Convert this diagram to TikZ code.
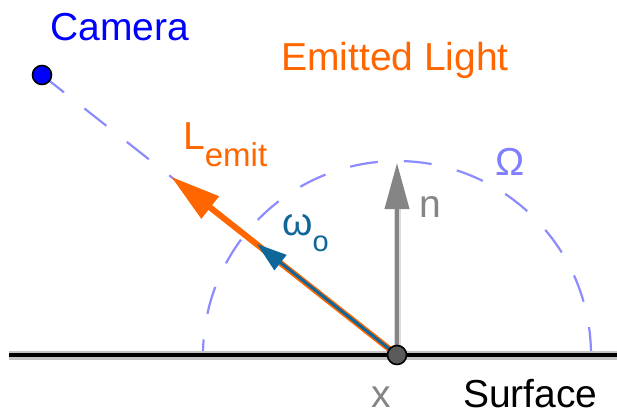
\documentclass[tikz,border=0pt]{standalone}
\usepackage{fontspec}
\setmainfont{Liberation Sans}
\usetikzlibrary{arrows.meta}
\definecolor{orng}{HTML}{FF6600}
\definecolor{tealb}{HTML}{0F6699}
\definecolor{dashblue}{HTML}{8C8CFF}
\definecolor{omegablue}{HTML}{7F7FFF}
\definecolor{halo}{HTML}{C4C4C4}
\definecolor{ngray}{HTML}{858585}
\definecolor{nhalo}{HTML}{DCDCDC}
\definecolor{ptgray}{HTML}{5A5A5A}
\begin{document}
\begin{tikzpicture}[x=1pt,y=1pt,
  lbl/.style={inner sep=0pt, anchor=base west, font=\fontsize{39}{42}\selectfont},
  dashline/.style={draw=dashblue, line width=2.2pt, dash pattern=on 28pt off 26pt},
  ptstyle/.style={circle, draw=black, line width=1.6pt, minimum size=19pt, inner sep=0pt}]
\useasboundingbox (0,0) rectangle (617,416);
\fill[white] (0,0) rectangle (617,416);
\coordinate (x) at (397,61);
\coordinate (cam) at (42,341);
\coordinate (sl) at (9,61);
\coordinate (sr) at (617,61);
\coordinate (ntip) at (397,253);
\coordinate (ltip) at (171,239.4);
\coordinate (wtip) at (257,172);
\coordinate (arcR) at (591,61);
% hemisphere and view line
\draw[dashline] (arcR) arc[start angle=0,end angle=180,radius=194pt];
\draw[dashline] (cam) -- (x);
% surface
\draw[line width=9pt, draw=halo] (sl) -- (sr);
\draw[line width=3.5pt, draw=black] (sl) -- (sr);
% normal
\draw[line width=7pt, draw=nhalo, shorten >=40pt] (x) -- (ntip);
\draw[line width=4pt, draw=ngray, -{Triangle[length=46pt,width=24pt]}] (x) -- (ntip);
% emitted light and omega_o
\draw[line width=6pt, draw=orng, -{Triangle[length=50pt,width=27pt]}] (x) -- (ltip);
\draw[line width=3pt, draw=tealb, -{Triangle[length=30pt,width=19pt]}] (x) -- (wtip);
% points
\node[ptstyle, fill=ptgray] (xpt) at (x) {};
\node[ptstyle, fill=blue] (campt) at (cam) {};
% labels
\node[lbl, text=blue] (camlbl) at (50,375) {Camera};
\node[lbl, text=orng] (emlbl) at (281,346) {Emitted Light};
\node[lbl, text=orng] (llbl) at (183,267) {L\raisebox{-17pt}{\fontsize{33}{34}\selectfont emit}};
\node[lbl, text=tealb] (wlbl) at (282,181) {ω\raisebox{-16pt}{\fontsize{29}{30}\selectfont o}};
\node[lbl, text=ngray] (nlbl) at (419,199) {n};
\node[lbl, text=omegablue] (Omlbl) at (495,241) {Ω};
\node[lbl, text=ngray] (xlbl) at (371,9) {x};
\node[lbl, text=black] (slbl) at (463,9) {Surface};
\end{tikzpicture}
\end{document}
